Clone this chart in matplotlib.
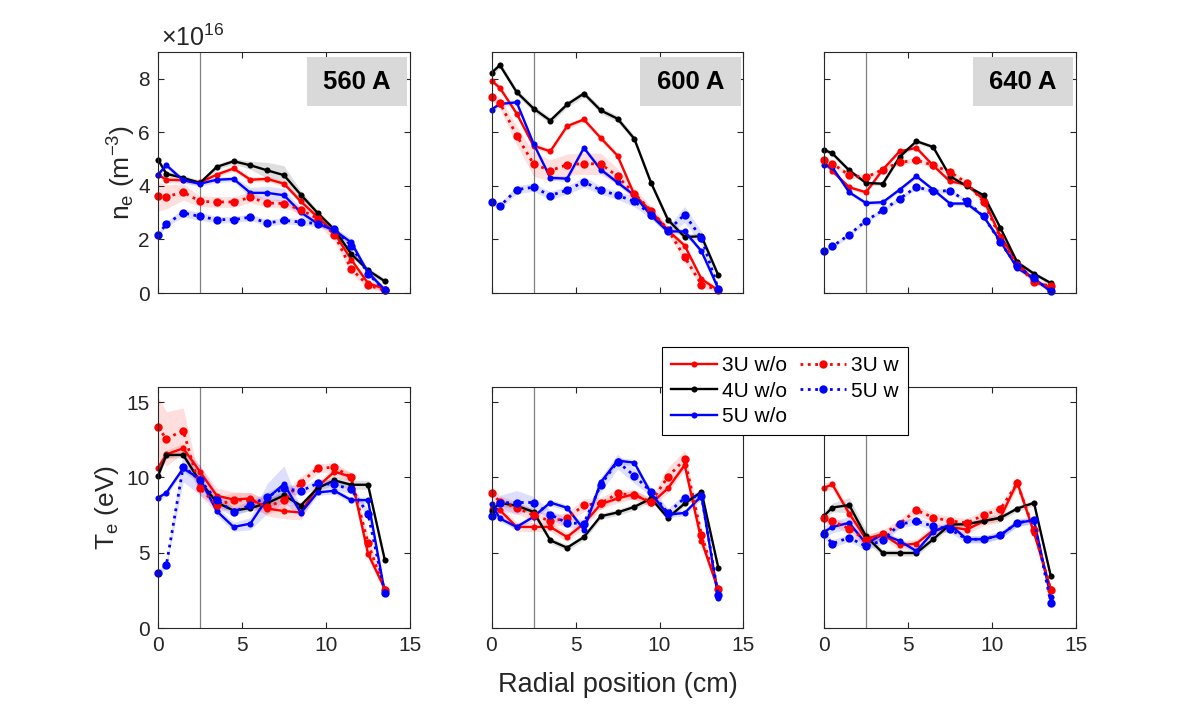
import matplotlib
matplotlib.use('Agg')
import matplotlib.pyplot as plt
from matplotlib.patches import Rectangle
import numpy as np

plt.rcParams['font.family'] = ['Liberation Sans', 'DejaVu Sans']
plt.rcParams['mathtext.fontset'] = 'custom'
plt.rcParams['mathtext.rm'] = 'Liberation Sans'
plt.rcParams['mathtext.it'] = 'Liberation Sans'

# radial positions (cm)
r = [0, 0.5, 1.5, 2.5, 3.5, 4.5, 5.5, 6.5, 7.5, 8.5, 9.5, 10.5, 11.5, 12.5, 13.5]
currents = ['560 A', '600 A', '640 A']

# density, units of 1e16 m^-3
ne560_3u_wo = [4.42, 4.23, 4.21, 4.13, 4.42, 4.65, 4.23, 4.26, 4.08, 3.42, 2.84, 2.24, 1.25, 0.37, 0.15]
ne560_4u_wo = [4.98, 4.45, 4.30, 4.11, 4.71, 4.92, 4.77, 4.58, 4.40, 3.67, 2.99, 2.37, 1.46, 0.85, 0.44]
ne560_5u_wo = [4.42, 4.77, 4.21, 4.08, 4.23, 4.26, 3.74, 3.74, 3.65, 3.01, 2.59, 2.34, 1.89, 0.77, 0.12]
ne560_3u_w = [3.61, 3.59, 3.77, 3.42, 3.40, 3.40, 3.57, 3.36, 3.34, 3.11, 2.78, 2.18, 0.90, 0.29, 0.10]
ne560_5u_w = [2.18, 2.58, 2.99, 2.86, 2.74, 2.74, 2.83, 2.61, 2.71, 2.65, 2.59, 2.39, 1.77, 0.72, 0.10]

ne600_3u_wo = [7.93, 7.66, 6.70, 5.50, 5.29, 6.23, 6.48, 5.79, 5.13, 3.67, 3.05, 2.34, 1.77, 0.52, 0.10]
ne600_4u_wo = [8.22, 8.51, 7.50, 6.89, 6.44, 7.04, 7.45, 6.82, 6.51, 5.76, 4.11, 2.74, 2.09, 2.12, 0.66]
ne600_5u_wo = [6.85, 7.06, 7.12, 5.58, 4.30, 4.27, 5.42, 4.61, 4.13, 3.65, 2.89, 2.30, 2.30, 1.56, 0.16]
ne600_3u_w = [7.32, 7.10, 5.88, 4.82, 4.57, 4.79, 4.83, 4.82, 4.36, 3.71, 3.08, 2.37, 1.34, 0.31, 0.12]
ne600_5u_w = [3.39, 3.24, 3.86, 3.95, 3.64, 3.84, 4.15, 3.84, 3.65, 3.42, 2.93, 2.33, 2.93, 2.05, 0.15]

ne640_3u_wo = [4.92, 4.55, 3.95, 3.76, 4.61, 5.29, 5.42, 4.76, 4.17, 4.05, 3.49, 2.12, 1.15, 0.44, 0.19]
ne640_4u_wo = [5.35, 5.21, 4.58, 4.11, 4.08, 5.08, 5.67, 5.45, 4.36, 3.99, 3.65, 2.43, 1.15, 0.72, 0.37]
ne640_5u_wo = [4.77, 4.69, 3.76, 3.36, 3.39, 3.86, 4.36, 3.86, 3.34, 3.34, 2.86, 1.93, 0.93, 0.54, 0.06]
ne640_3u_w = [4.96, 4.83, 4.40, 4.32, 4.61, 4.88, 4.96, 4.77, 4.52, 4.11, 3.40, 2.05, 1.06, 0.41, 0.25]
ne640_5u_w = [1.56, 1.74, 2.18, 2.70, 3.09, 3.52, 3.96, 3.80, 3.82, 3.42, 2.86, 1.89, 1.00, 0.56, 0.06]

# electron temperature (eV)
te560_3u_wo = [10.64, 11.53, 11.93, 10.38, 8.78, 8.53, 8.60, 7.93, 7.76, 7.67, 9.38, 10.38, 10.04, 4.93, 2.60]
te560_4u_wo = [10.09, 11.49, 11.49, 9.73, 8.33, 7.80, 7.96, 8.29, 8.80, 8.13, 9.29, 9.80, 9.51, 9.51, 4.51]
te560_5u_wo = [8.64, 8.98, 10.60, 9.89, 7.76, 6.71, 6.93, 8.60, 9.56, 7.64, 9.00, 9.11, 8.49, 8.49, 2.33]
te560_3u_w = [13.33, 12.56, 13.11, 9.27, 8.16, 8.49, 8.49, 8.04, 8.49, 9.64, 10.60, 10.67, 10.00, 5.64, 2.53]
te560_5u_w = [3.64, 4.20, 10.71, 9.82, 8.49, 7.71, 8.16, 8.71, 9.27, 9.09, 9.60, 9.53, 9.20, 7.60, 2.33]

te600_3u_wo = [7.93, 7.82, 6.71, 6.71, 6.71, 6.04, 6.93, 8.22, 8.60, 8.89, 8.27, 9.27, 10.82, 5.78, 2.53]
te600_4u_wo = [7.78, 8.31, 8.11, 7.71, 5.82, 5.33, 6.04, 7.42, 7.67, 8.04, 8.60, 7.31, 8.27, 9.04, 4.00]
te600_5u_wo = [8.22, 7.27, 6.71, 7.38, 8.33, 7.98, 6.53, 9.67, 11.11, 10.98, 8.93, 7.53, 7.64, 8.76, 2.00]
te600_3u_w = [8.98, 8.38, 7.98, 7.49, 7.11, 7.27, 8.16, 8.27, 8.93, 8.82, 8.38, 10.04, 11.20, 6.20, 2.60]
te600_5u_w = [7.42, 8.31, 8.33, 8.33, 7.53, 6.98, 6.93, 9.50, 11.04, 10.11, 9.04, 7.64, 8.64, 8.76, 2.16]

te640_3u_wo = [9.31, 9.53, 7.60, 5.93, 6.22, 5.49, 5.60, 6.49, 6.71, 6.53, 7.09, 7.31, 9.67, 6.33, 2.56]
te640_4u_wo = [7.44, 8.00, 8.16, 6.09, 4.98, 4.98, 4.98, 5.89, 6.87, 6.89, 7.11, 7.31, 7.93, 8.31, 3.44]
te640_5u_wo = [6.38, 6.71, 6.98, 5.60, 6.22, 5.78, 5.11, 6.38, 6.87, 5.89, 5.89, 6.16, 6.98, 7.16, 2.04]
te640_3u_w = [7.27, 7.09, 6.60, 5.82, 6.22, 6.93, 7.82, 7.33, 7.11, 6.98, 7.49, 7.89, 9.60, 6.50, 2.49]
te640_5u_w = [6.22, 5.60, 6.00, 5.42, 5.82, 6.89, 7.09, 6.76, 6.56, 5.89, 5.89, 6.16, 6.98, 7.16, 1.67]

# uncertainty half-widths (shaded bands)
ne560_err_3u_wo = [0.10] * 15
ne560_err_4u_wo = [0.1, 0.1, 0.1, 0.1, 0.1, 0.1, 0.15, 0.3, 0.35, 0.15, 0.1, 0.1, 0.1, 0.1, 0.1]
ne560_err_5u_wo = [0.1, 0.1, 0.1, 0.1, 0.1, 0.1, 0.2, 0.25, 0.25, 0.15, 0.1, 0.1, 0.15, 0.1, 0.1]
ne560_err_3u_w = [0.55, 0.45, 0.3, 0.2, 0.2, 0.2, 0.2, 0.15, 0.15, 0.15, 0.2, 0.25, 0.2, 0.1, 0.1]
ne560_err_5u_w = [0.1, 0.1, 0.15, 0.15, 0.12, 0.12, 0.12, 0.12, 0.12, 0.12, 0.1, 0.1, 0.1, 0.1, 0.1]

ne600_err_3u_wo = [0.10] * 15
ne600_err_4u_wo = [0.12] * 15
ne600_err_5u_wo = [0.10] * 15
ne600_err_3u_w = [0.15, 0.2, 0.35, 0.45, 0.4, 0.4, 0.4, 0.4, 0.3, 0.2, 0.15, 0.15, 0.2, 0.1, 0.1]
ne600_err_5u_w = [0.1, 0.1, 0.15, 0.15, 0.15, 0.15, 0.2, 0.15, 0.15, 0.2, 0.15, 0.15, 0.3, 0.25, 0.1]

ne640_err_3u_wo = [0.08] * 15
ne640_err_4u_wo = [0.08] * 15
ne640_err_5u_wo = [0.08] * 15
ne640_err_3u_w = [0.1] * 15
ne640_err_5u_w = [0.08] * 15

te560_err_3u_wo = [0.3, 0.3, 0.3, 0.4, 0.5, 0.5, 0.4, 0.5, 0.5, 0.5, 0.3, 0.3, 0.3, 0.3, 0.2]
te560_err_4u_wo = [0.2, 0.2, 0.2, 0.2, 0.2, 0.2, 0.2, 0.3, 0.3, 0.2, 0.2, 0.3, 0.3, 0.3, 0.2]
te560_err_5u_wo = [0.2, 0.2, 0.2, 0.3, 0.3, 0.3, 0.4, 1.0, 1.2, 0.3, 0.2, 0.2, 0.2, 0.2, 0.2]
te560_err_3u_w = [2.0, 1.8, 1.5, 0.5, 0.5, 0.5, 0.5, 0.5, 0.5, 0.4, 0.3, 0.3, 0.3, 0.5, 0.3]
te560_err_5u_w = [0.2, 0.2, 1.0, 1.0, 0.5, 0.3, 0.3, 0.3, 0.3, 0.3, 0.3, 0.3, 0.3, 0.3, 0.2]

te600_err_3u_wo = [0.3] * 15
te600_err_4u_wo = [0.2] * 15
te600_err_5u_wo = [0.2] * 15
te600_err_3u_w = [0.5, 0.4, 0.4, 0.4, 0.4, 0.4, 0.4, 0.4, 0.3, 0.3, 0.3, 0.6, 0.6, 0.4, 0.2]
te600_err_5u_w = [0.3, 0.5, 0.8, 0.4, 0.3, 0.3, 0.3, 0.5, 0.5, 0.5, 0.3, 0.3, 0.3, 0.3, 0.2]

te640_err_3u_wo = [0.3] * 15
te640_err_4u_wo = [0.3, 0.3, 0.5, 0.4, 0.2, 0.2, 0.2, 0.2, 0.2, 0.2, 0.2, 0.2, 0.2, 0.2, 0.2]
te640_err_5u_wo = [0.4, 0.4, 0.4, 0.3, 0.2, 0.2, 0.2, 0.2, 0.2, 0.2, 0.2, 0.2, 0.2, 0.2, 0.2]
te640_err_3u_w = [0.3] * 15
te640_err_5u_w = [0.25] * 15

labels = ['3U w/o', '4U w/o', '5U w/o', '3U w', '5U w']
colors = ['#ff0000', '#000000', '#0000ff', '#ff0000', '#0000ff']
styles = ['-', '-', '-', ':', ':']

ne_sets = [
    [ne560_3u_wo, ne560_4u_wo, ne560_5u_wo, ne560_3u_w, ne560_5u_w],
    [ne600_3u_wo, ne600_4u_wo, ne600_5u_wo, ne600_3u_w, ne600_5u_w],
    [ne640_3u_wo, ne640_4u_wo, ne640_5u_wo, ne640_3u_w, ne640_5u_w],
]
ne_errs = [
    [ne560_err_3u_wo, ne560_err_4u_wo, ne560_err_5u_wo, ne560_err_3u_w, ne560_err_5u_w],
    [ne600_err_3u_wo, ne600_err_4u_wo, ne600_err_5u_wo, ne600_err_3u_w, ne600_err_5u_w],
    [ne640_err_3u_wo, ne640_err_4u_wo, ne640_err_5u_wo, ne640_err_3u_w, ne640_err_5u_w],
]
te_sets = [
    [te560_3u_wo, te560_4u_wo, te560_5u_wo, te560_3u_w, te560_5u_w],
    [te600_3u_wo, te600_4u_wo, te600_5u_wo, te600_3u_w, te600_5u_w],
    [te640_3u_wo, te640_4u_wo, te640_5u_wo, te640_3u_w, te640_5u_w],
]
te_errs = [
    [te560_err_3u_wo, te560_err_4u_wo, te560_err_5u_wo, te560_err_3u_w, te560_err_5u_w],
    [te600_err_3u_wo, te600_err_4u_wo, te600_err_5u_wo, te600_err_3u_w, te600_err_5u_w],
    [te640_err_3u_wo, te640_err_4u_wo, te640_err_5u_wo, te640_err_3u_w, te640_err_5u_w],
]

W, H = 1186, 704
fig = plt.figure(figsize=(W / 100, H / 100), dpi=100)

col_left = [158, 491.5, 824]
ax_w = 252
row_top = [52, 387]
ax_h = 241

edge = '#262626'


def draw_panel(ax, sets, errs):
    x = np.array(r)
    handles = []
    for k in range(5):
        y = np.array(sets[k])
        e = np.array(errs[k])
        ax.fill_between(x, y - e, y + e, color=colors[k], alpha=0.13, lw=0)
    for k in range(5):
        y = np.array(sets[k])
        dotted = styles[k] == ':'
        h, = ax.plot(x, y, linestyle=styles[k], color=colors[k],
                     lw=2.0 if dotted else 1.7, marker='o',
                     ms=6.0 if dotted else 4.4, mec='none', label=labels[k],
                     clip_on=False)
        handles.append(h)
    ax.axvline(2.5, color='#808080', lw=0.9, zorder=0)
    ax.set_xlim(0, 15)
    ax.set_xticks([0, 5, 10, 15])
    ax.tick_params(direction='in', top=True, right=True, length=4,
                   color=edge, labelcolor=edge, labelsize=15, width=0.8, pad=6)
    for s in ax.spines.values():
        s.set_color(edge)
        s.set_linewidth(0.8)
    return handles


handles = None
for c in range(3):
    # top row: density
    ax = fig.add_axes([col_left[c] / W, 1 - (row_top[0] + ax_h) / H, ax_w / W, ax_h / H])
    draw_panel(ax, ne_sets[c], ne_errs[c])
    ax.set_ylim(0, 9)
    ax.set_yticks([0, 2, 4, 6, 8])
    ax.set_xticklabels([])
    ax.add_patch(Rectangle((0.59, 0.776), 0.40, 0.203, transform=ax.transAxes,
                           facecolor='#d9d9d9', edgecolor='none', zorder=5))
    ax.text(0.79, 0.877, currents[c], transform=ax.transAxes, ha='center', va='center',
            fontsize=18.5, fontweight='bold', zorder=6)
    if c == 0:
        ax.set_ylabel(r'n$_e$ (m$^{-3}$)', fontsize=19, color=edge, labelpad=0)
        ax.text(0.01, 1.005, r'$\times10^{16}$', transform=ax.transAxes,
                fontsize=18, color=edge, va='bottom', ha='left')
    else:
        ax.set_yticklabels([])

    # bottom row: temperature
    ax2 = fig.add_axes([col_left[c] / W, 1 - (row_top[1] + ax_h) / H, ax_w / W, ax_h / H])
    hh = draw_panel(ax2, te_sets[c], te_errs[c])
    ax2.set_ylim(0, 16)
    ax2.set_yticks([0, 5, 10, 15])
    if c == 0:
        ax2.set_ylabel(r'T$_e$ (eV)', fontsize=19, color=edge, labelpad=4)
        handles = hh
    else:
        ax2.set_yticklabels([])
    if c == 1:
        ax2.set_xlabel('Radial position (cm)', fontsize=19.5, color=edge, labelpad=12)

leg = fig.legend(handles, labels, ncol=2, loc='upper left',
                 bbox_to_anchor=(662 / W, 1 - 347 / H), borderaxespad=0,
                 fontsize=15, frameon=True, fancybox=False, framealpha=1,
                 edgecolor='black', handlelength=2.2, handletextpad=0.25,
                 columnspacing=0.6, labelspacing=0.3, borderpad=0.45)
leg.get_frame().set_linewidth(0.8)

fig.savefig('out.png', dpi=100)
